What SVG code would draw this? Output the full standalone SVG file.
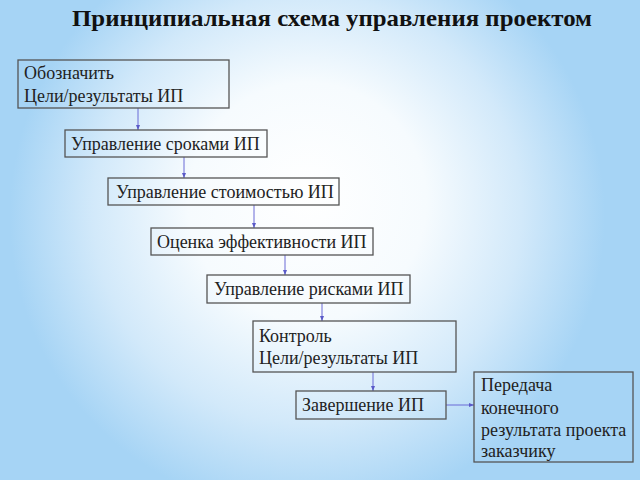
<svg xmlns="http://www.w3.org/2000/svg" width="640" height="480" viewBox="0 0 640 480">
<defs>
<radialGradient id="bg" cx="48%" cy="45%" r="62%" fx="48%" fy="40%" gradientTransform="translate(0.48 0.45) scale(0.75 1) translate(-0.48 -0.45)">
<stop offset="0" stop-color="#ffffff"/>
<stop offset="0.4" stop-color="#f6fbfe"/>
<stop offset="0.72" stop-color="#d2e9fa"/>
<stop offset="1" stop-color="#a6d4f5"/>
</radialGradient>
<marker id="ah" markerWidth="6" markerHeight="6" refX="5" refY="3" orient="auto" markerUnits="userSpaceOnUse">
<path d="M0,1 L5,3 L0,5 z" fill="#5a5ac8"/>
</marker>
<style>
.box{fill:none;stroke:#555;stroke-width:1.3}
.t{font-family:'Liberation Serif','DejaVu Serif',serif;font-size:18px;fill:#222}
.title{font-family:'Liberation Serif','DejaVu Serif',serif;font-size:23px;font-weight:bold;fill:#111}
.c{stroke:#6a6ad6;stroke-width:1;fill:none;marker-end:url(#ah)}
</style>
</defs>
<rect x="0" y="0" width="640" height="480" fill="url(#bg)"/>
<text class="title" x="332" y="26" text-anchor="middle" textLength="520" lengthAdjust="spacingAndGlyphs">Принципиальная схема управления проектом</text>
<g id="connectors">
<line class="c" x1="138" y1="108" x2="138" y2="130"/>
<line class="c" x1="184" y1="157" x2="184" y2="178"/>
<line class="c" x1="254" y1="205" x2="254" y2="228"/>
<line class="c" x1="285" y1="255" x2="285" y2="275"/>
<line class="c" x1="322" y1="303" x2="322" y2="321"/>
<line class="c" x1="373" y1="372" x2="373" y2="391"/>
<line class="c" x1="446" y1="405" x2="474" y2="405"/>
</g>
<g id="n1"><rect class="box" x="18" y="60" width="211" height="48"/><text class="t" x="24" y="79">Обозначить</text><text class="t" x="24" y="102">Цели/результаты ИП</text></g>
<g id="n2"><rect class="box" x="65" y="130" width="202" height="27"/><text class="t" x="71" y="150">Управление сроками ИП</text></g>
<g id="n3"><rect class="box" x="108" y="178" width="231" height="27"/><text class="t" x="116" y="198">Управление стоимостью ИП</text></g>
<g id="n4"><rect class="box" x="151" y="228" width="222" height="27"/><text class="t" x="157" y="248">Оценка эффективности ИП</text></g>
<g id="n5"><rect class="box" x="207" y="275" width="203" height="28"/><text class="t" x="214" y="295">Управление рисками ИП</text></g>
<g id="n6"><rect class="box" x="253" y="321" width="203" height="51"/><text class="t" x="259" y="342">Контроль</text><text class="t" x="259" y="364">Цели/результаты ИП</text></g>
<g id="n7"><rect class="box" x="296" y="391" width="150" height="28"/><text class="t" x="302" y="411">Завершение ИП</text></g>
<g id="n8"><rect class="box" x="474" y="372" width="159" height="90"/><text class="t" x="481" y="391">Передача</text><text class="t" x="481" y="414">конечного</text><text class="t" x="481" y="436">результата проекта</text><text class="t" x="481" y="457">заказчику</text></g>
</svg>
